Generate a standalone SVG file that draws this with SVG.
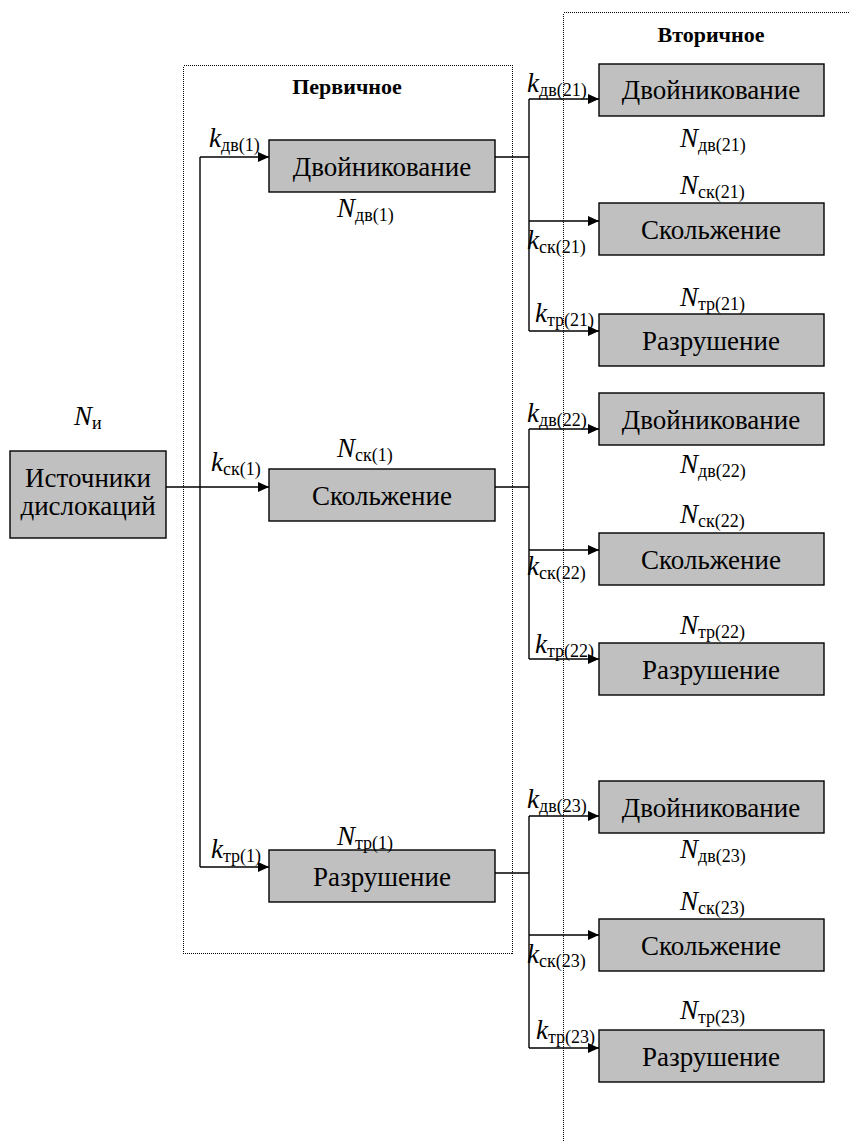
<svg xmlns="http://www.w3.org/2000/svg" width="849" height="1142" viewBox="0 0 849 1142">
<defs>
<marker id="arr" markerWidth="11" markerHeight="10" refX="11" refY="5" orient="auto" markerUnits="userSpaceOnUse">
<path d="M0,0 L11,5 L0,10 Z" fill="#000"/>
</marker>
<style>
.box{fill:#c0c0c0;stroke:#000;stroke-width:1.4}
.nt{font-size:27px;fill:#000;text-anchor:middle}
.lb{font-size:27px;font-style:italic;fill:#000}
.sb{font-size:18px;font-style:normal}
.ttl{font-size:22px;font-weight:bold;fill:#000;text-anchor:middle}
.dot{fill:none;stroke:#000;stroke-width:1;stroke-dasharray:1 1}
.ln{fill:none;stroke:#000;stroke-width:1.4}
.ar{fill:none;stroke:#000;stroke-width:1.4;marker-end:url(#arr)}
</style>
</defs>
<rect width="849" height="1142" fill="#fff"/>
<g font-family="'Liberation Serif', 'DejaVu Serif', serif">
<g id="region-primary">
<rect class="dot" x="183.5" y="65.5" width="329" height="888" shape-rendering="crispEdges"/>
<text class="ttl" x="347" y="94">Первичное</text>
</g>
<g id="region-secondary">
<rect class="dot" x="563.5" y="12.5" width="320" height="1150" shape-rendering="crispEdges"/>
<text class="ttl" x="711" y="42">Вторичное</text>
</g>
<g id="connectors">
<path class="ln" d="M166,487 H200 M200,157 V867"/>
<path class="ar" d="M200,157 H269"/>
<path class="ar" d="M200,487 H269"/>
<path class="ar" d="M200,867 H269"/>
<path class="ln" d="M495,157 H529 M529,99 V331"/>
<path class="ar" d="M529,99 H599"/>
<path class="ar" d="M529,221 H599"/>
<path class="ar" d="M529,331 H599"/>
<path class="ln" d="M495,487 H529 M529,429 V659"/>
<path class="ar" d="M529,429 H599"/>
<path class="ar" d="M529,550 H599"/>
<path class="ar" d="M529,659 H599"/>
<path class="ln" d="M495,873 H529 M529,816 V1048"/>
<path class="ar" d="M529,816 H599"/>
<path class="ar" d="M529,935 H599"/>
<path class="ar" d="M529,1048 H599"/>
</g>
<g id="source">
<rect class="box" x="10" y="451" width="156" height="87"/>
<text class="nt" x="88" y="487">Источники</text>
<text class="nt" x="88" y="515">дислокаций</text>
<text class="lb" x="74" y="425">N<tspan class="sb" dy="4">и</tspan></text>
</g>
<g id="p-dv">
<rect class="box" x="269" y="140" width="226" height="52"/>
<text class="nt" x="382" y="176">Двойникование</text>
<text class="lb" x="209" y="147">k<tspan class="sb" dy="4">дв(1)</tspan></text>
<text class="lb" x="337" y="217">N<tspan class="sb" dy="4">дв(1)</tspan></text>
</g>
<g id="p-sk">
<rect class="box" x="269" y="469" width="226" height="52"/>
<text class="nt" x="382" y="505">Скольжение</text>
<text class="lb" x="211" y="471">k<tspan class="sb" dy="4">ск(1)</tspan></text>
<text class="lb" x="337" y="457">N<tspan class="sb" dy="4">ск(1)</tspan></text>
</g>
<g id="p-tr">
<rect class="box" x="269" y="850" width="226" height="52"/>
<text class="nt" x="382" y="886">Разрушение</text>
<text class="lb" x="211" y="858">k<tspan class="sb" dy="4">тр(1)</tspan></text>
<text class="lb" x="337" y="845">N<tspan class="sb" dy="4">тр(1)</tspan></text>
</g>
<g id="s-dv21">
<rect class="box" x="599" y="64" width="225" height="52"/>
<text class="nt" x="711" y="99">Двойникование</text>
<text class="lb" x="527" y="92">k<tspan class="sb" dy="4">дв(21)</tspan></text>
<text class="lb" x="680" y="147">N<tspan class="sb" dy="4">дв(21)</tspan></text>
</g>
<g id="s-sk21">
<rect class="box" x="599" y="203" width="225" height="52"/>
<text class="nt" x="711" y="239">Скольжение</text>
<text class="lb" x="680" y="194">N<tspan class="sb" dy="4">ск(21)</tspan></text>
<text class="lb" x="527" y="249">k<tspan class="sb" dy="4">ск(21)</tspan></text>
</g>
<g id="s-tr21">
<rect class="box" x="599" y="314" width="225" height="52"/>
<text class="nt" x="711" y="350">Разрушение</text>
<text class="lb" x="680" y="306">N<tspan class="sb" dy="4">тр(21)</tspan></text>
<text class="lb" x="535" y="322">k<tspan class="sb" dy="4">тр(21)</tspan></text>
</g>
<g id="s-dv22">
<rect class="box" x="599" y="393" width="225" height="52"/>
<text class="nt" x="711" y="429">Двойникование</text>
<text class="lb" x="527" y="422">k<tspan class="sb" dy="4">дв(22)</tspan></text>
<text class="lb" x="680" y="473">N<tspan class="sb" dy="4">дв(22)</tspan></text>
</g>
<g id="s-sk22">
<rect class="box" x="599" y="533" width="225" height="52"/>
<text class="nt" x="711" y="569">Скольжение</text>
<text class="lb" x="680" y="523">N<tspan class="sb" dy="4">ск(22)</tspan></text>
<text class="lb" x="527" y="575">k<tspan class="sb" dy="4">ск(22)</tspan></text>
</g>
<g id="s-tr22">
<rect class="box" x="599" y="643" width="225" height="52"/>
<text class="nt" x="711" y="679">Разрушение</text>
<text class="lb" x="680" y="634">N<tspan class="sb" dy="4">тр(22)</tspan></text>
<text class="lb" x="535" y="653">k<tspan class="sb" dy="4">тр(22)</tspan></text>
</g>
<g id="s-dv23">
<rect class="box" x="599" y="781" width="225" height="52"/>
<text class="nt" x="711" y="817">Двойникование</text>
<text class="lb" x="527" y="808">k<tspan class="sb" dy="4">дв(23)</tspan></text>
<text class="lb" x="680" y="858">N<tspan class="sb" dy="4">дв(23)</tspan></text>
</g>
<g id="s-sk23">
<rect class="box" x="599" y="919" width="225" height="52"/>
<text class="nt" x="711" y="955">Скольжение</text>
<text class="lb" x="680" y="910">N<tspan class="sb" dy="4">ск(23)</tspan></text>
<text class="lb" x="527" y="963">k<tspan class="sb" dy="4">ск(23)</tspan></text>
</g>
<g id="s-tr23">
<rect class="box" x="599" y="1030" width="225" height="52"/>
<text class="nt" x="711" y="1066">Разрушение</text>
<text class="lb" x="680" y="1019">N<tspan class="sb" dy="4">тр(23)</tspan></text>
<text class="lb" x="536" y="1039">k<tspan class="sb" dy="4">тр(23)</tspan></text>
</g>
</g>
</svg>
